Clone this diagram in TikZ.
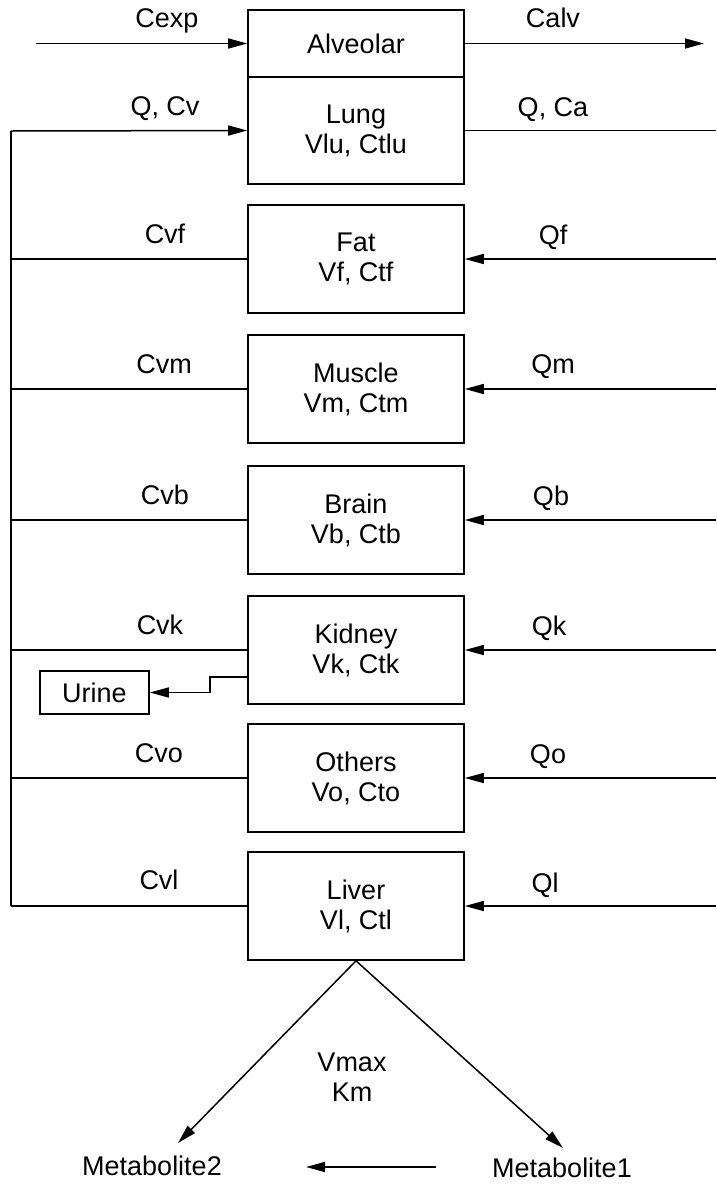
\documentclass[tikz,border=0pt]{standalone}
\usepackage{fontspec}
\setmainfont{Liberation Sans}
\usetikzlibrary{arrows.meta,calc}
\begin{document}
\begin{tikzpicture}[x=1pt,y=-1pt,
  every node/.style={font=\fontsize{27}{30}\selectfont, inner sep=0pt},
  organ/.style={draw, line width=1.6pt, minimum width=216pt, minimum height=108pt, align=center},
  lbl/.style={anchor=base},
  flow/.style={line width=1.5pt},
  arr/.style={flow, -{Triangle[length=19pt,width=10pt]}},
]
\useasboundingbox (0,0) rectangle (716,1184);

% free ends
\coordinate (R) at (716,0);
\coordinate (lt) at (11,131);
\coordinate (lb) at (11,906);
\coordinate (cexpstart) at (36,43.5);
\coordinate (calvend) at (704,43.5);
\coordinate (m2tip) at (178,1143);
\coordinate (m1tip) at (563,1148);
\coordinate (ms) at (436,1167);
\coordinate (me) at (306,1167);

% boxes
\node[organ, minimum height=67pt] (alv) at (356,43.5) {Alveolar};
\node[organ, minimum height=107pt] (lung) at (356,130.5) {Lung\\Vlu, Ctlu};
\node[organ] (fat) at (356,259) {Fat\\Vf, Ctf};
\node[organ] (mus) at (356,389) {Muscle\\Vm, Ctm};
\node[organ] (bra) at (356,520) {Brain\\Vb, Ctb};
\node[organ] (kid) at (356,650) {Kidney\\Vk, Ctk};
\node[organ] (oth) at (356,778) {Others\\Vo, Cto};
\node[organ] (liv) at (356,906) {Liver\\Vl, Ctl};
\node[draw, line width=1.6pt, minimum width=109pt, minimum height=43pt] (urine) at (94.5,692.5) {Urine};

\node (m2) at (152,1166) {Metabolite2};
\node (m1) at (562,1168) {Metabolite1};
\node[align=center] (vk) at (352,1077) {Vmax\\Km};

% top flows
\draw[arr] (cexpstart) -- (alv.west);
\draw[arr] (alv.east) -- (calvend);
\draw[flow] (lb) -- (lt);
\draw[arr] (lt) -- (lung.west);
\draw[flow] (lung.east) -- (lung.east -| R);

% venous outflows (left) and arterial inflows (right)
\foreach \o in {fat,mus,bra,kid,oth,liv}{
  \draw[flow] (\o.west) -- (\o.west -| lb);
  \draw[arr] (\o.east -| R) -- (\o.east);
}

% urine
\draw[arr] ($(kid.west)+(0,27)$) -- ++(-37,0) |- (urine.east);

% metabolism
\draw[arr] (liv.south) -- (m2tip);
\draw[arr] (liv.south) -- (m1tip);
\draw[arr] (ms) -- (me);

% labels
\node[lbl] (lcexp) at (167,27.5) {Cexp};
\node[lbl] (lcalv) at (553,27.5) {Calv};
\node[lbl] (lqcv) at (165,115) {Q, Cv};
\node[lbl] (lqca) at (553,116) {Q, Ca};
\node[lbl] (lcvf) at (165,243) {Cvf};
\node[lbl] (lqf) at (553,244) {Qf};
\node[lbl] (lcvm) at (164,373) {Cvm};
\node[lbl] (lqm) at (553,373) {Qm};
\node[lbl] (lcvb) at (165,504) {Cvb};
\node[lbl] (lqb) at (551,505) {Qb};
\node[lbl] (lcvk) at (160,634) {Cvk};
\node[lbl] (lqk) at (549,635) {Qk};
\node[lbl] (lcvo) at (159,762) {Cvo};
\node[lbl] (lqo) at (548,763) {Qo};
\node[lbl] (lcvl) at (159,889) {Cvl};
\node[lbl] (lql) at (545,892) {Ql};
\end{tikzpicture}
\end{document}
